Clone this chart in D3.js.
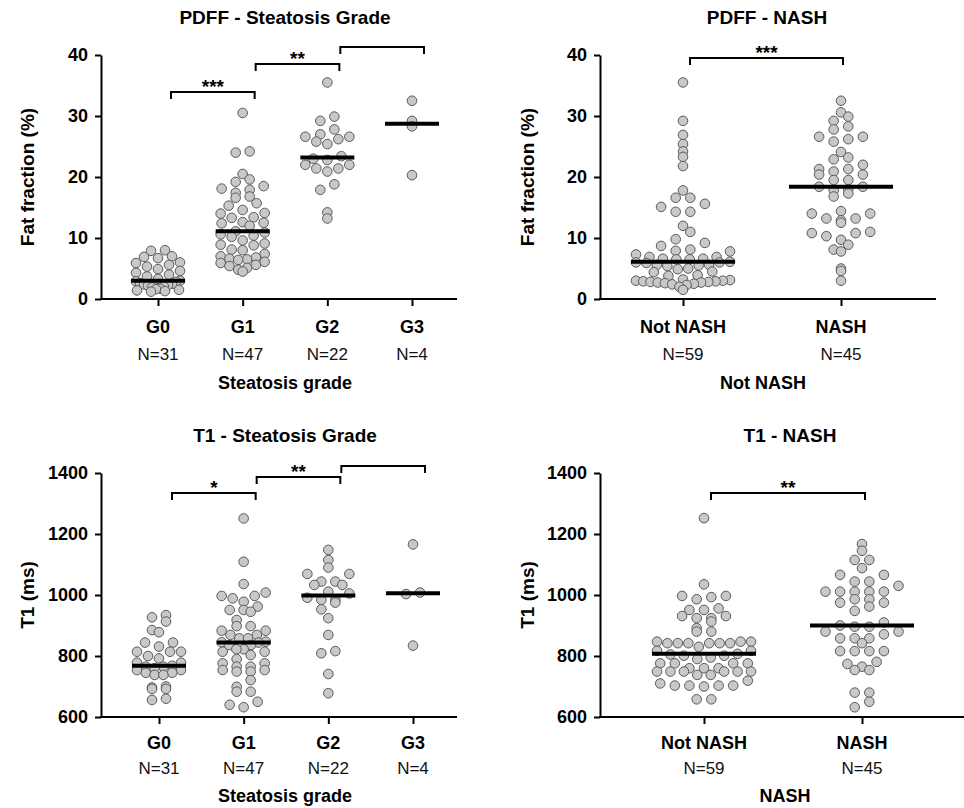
<!DOCTYPE html>
<html>
<head>
<meta charset="utf-8">
<script src="https://cdn.jsdelivr.net/npm/d3@7"></script>
<style>
  body { margin: 0; background: #fff; }
  svg { display: block; font-family: "Liberation Sans", Arial, sans-serif; }
</style>
</head>
<body>
<svg id="chart" width="964" height="808"></svg>
<script>
// categories + labels
var gradeCats = ["G0", "G1", "G2", "G3"];
var gradeN = ["N=31", "N=47", "N=22", "N=4"];
var nashCats = ["Not NASH", "NASH"];
var nashN = ["N=59", "N=45"];
var pdffTicks = [0, 10, 20, 30, 40];
var t1Ticks = [600, 800, 1000, 1200, 1400];

// PDFF (%) by steatosis grade
var pdffG0 = [8.0, 7.9, 7.0, 6.9, 6.7, 6.0, 5.9, 5.6, 5.3, 4.9, 4.6, 4.3, 4.0, 3.7, 3.3, 3.0,
  2.9, 2.8, 2.6, 2.5, 2.4, 2.3, 2.2, 2.0, 1.9, 1.7, 1.6, 1.5, 1.4, 1.3, 1.2];
var pdffG1 = [30.5, 24.2, 24.0, 20.5, 19.6, 19.2, 18.5, 18.1, 17.9, 17.4, 16.8, 16.6, 15.7, 15.3,
  14.6, 14.1, 14.0, 13.4, 13.3, 12.6, 12.5, 12.4, 12.0, 11.1, 10.9, 10.6, 10.4, 10.2, 9.6, 9.1,
  8.9, 8.8, 8.1, 8.0, 7.4, 7.0, 6.8, 6.6, 6.5, 6.4, 6.1, 5.9, 5.6, 5.4, 5.1, 4.8, 4.5];
var pdffG2 = [35.5, 29.9, 29.2, 27.8, 27.0, 26.6, 26.6, 26.2, 25.8, 25.4, 23.4, 23.0, 22.8, 22.0,
  22.0, 21.4, 21.4, 20.9, 18.8, 17.9, 14.2, 13.2];
var pdffG3 = [32.5, 29.2, 28.3, 20.3];

// PDFF (%) by NASH
var pdffNot = [35.5, 29.2, 26.9, 25.4, 24.2, 23.3, 21.8, 17.8, 16.6, 16.6, 15.6, 15.1, 14.3, 14.3,
  12.0, 11.0, 9.8, 9.2, 8.7, 8.1, 7.9, 7.8, 7.3, 6.9, 6.9, 6.6, 6.6, 6.5, 6.5, 6.1,
  6.0, 6.0, 5.9, 5.6, 5.6, 5.5, 5.4, 5.0, 4.9, 4.5, 4.4, 3.9, 3.8, 3.2, 3.1, 3.0, 3.0, 2.9, 2.9,
  2.8, 2.8, 2.7, 2.7, 2.6, 2.5, 2.4, 2.3, 2.0, 1.5];
var pdffNash = [32.5, 30.6, 29.9, 29.2, 28.3, 27.8, 26.6, 26.6, 26.2, 25.8, 24.1, 23.2, 22.9, 22.0,
  21.3, 21.3, 20.9, 20.4, 20.4, 19.5, 19.5, 18.4, 18.4, 18.0, 17.8, 17.3, 16.8, 14.4, 14.0, 14.0,
  13.2, 13.2, 12.9, 12.5, 11.0, 10.8, 10.8, 10.3, 9.7, 8.9, 8.1, 7.8, 5.0, 4.6, 3.0];

// T1 (ms) by steatosis grade
var t1G0 = [934, 927, 913, 885, 878, 844, 844, 831, 814, 814, 814, 800, 792, 778, 778, 768,
  765, 765, 760, 754, 754, 745, 745, 738, 738, 700, 697, 692, 692, 660, 656];
var t1G1 = [1251, 1109, 1036, 1008, 997, 997, 989, 978, 962, 951, 951, 945, 918, 898, 898, 883,
  883, 869, 869, 858, 858, 847, 845, 844, 836, 836, 822, 822, 814, 814, 803, 790, 776, 776,
  765, 765, 754, 754, 749, 749, 721, 699, 683, 683, 650, 640, 632];
var t1G2 = [1148, 1115, 1090, 1069, 1069, 1044, 1044, 1033, 1033, 1011, 1005, 991, 984, 984,
  975, 953, 924, 869, 816, 809, 741, 678];
var t1G3 = [1166, 1008, 1003, 834];

// T1 (ms) by NASH
var t1Not = [1252, 1035, 997, 997, 993, 986, 956, 951, 951, 931, 931, 924, 924, 913, 891, 880,
  880, 847, 847, 847, 842, 842, 842, 842, 842, 842, 830, 817, 817, 807, 805, 801, 801, 795, 790,
  776, 776, 776, 776, 760, 760, 760, 749, 749, 749, 749, 749, 749, 738, 738, 719, 710, 703, 703,
  703, 703, 700, 658, 658];
var t1Nash = [1167, 1145, 1115, 1115, 1088, 1066, 1066, 1044, 1044, 1030, 1011, 1011, 1011, 1011,
  1011, 986, 986, 975, 975, 962, 948, 910, 900, 896, 896, 880, 880, 871, 858, 858, 858, 842,
  816, 816, 816, 816, 781, 774, 765, 754, 754, 680, 680, 650, 632];

// significance brackets
var gradeComps = [["G0", "G1"], ["G1", "G2"], ["G2", "G3"]];
var nashComps = [["Not NASH", "NASH"]];
var pdffGradeStars = ["***", "**", ""];
var t1GradeStars = ["*", "**", ""];
var pdffNashStars = ["***"];
var t1NashStars = ["**"];

var svg = d3.select("#chart");

var panels = [
  { title: "PDFF - Steatosis Grade", titleX: 285, titleY: 24, yTitle: "Fat fraction (%)", yTitleX: 27,
    axisX: 101, axisEnd: 457, yRange: [299, 55], domain: [0, 40], ticks: pdffTicks,
    cats: gradeCats, ns: gradeN, xRange: [158, 412], series: [pdffG0, pdffG1, pdffG2, pdffG3],
    xTitle: "Steatosis grade", xTitleX: 285, labY: [333, 360, 389], halfW: 27, step: 14, spread: 22,
    comps: gradeComps, stars: pdffGradeStars, brY: [92, 64, 47], brOff: [13, 12] },
  { title: "PDFF - NASH", titleX: 767, titleY: 24, yTitle: "Fat fraction (%)", yTitleX: 527,
    axisX: 600, axisEnd: 936, yRange: [299, 55], domain: [0, 40], ticks: pdffTicks,
    cats: nashCats, ns: nashN, xRange: [683, 841], series: [pdffNot, pdffNash],
    xTitle: "Not NASH", xTitleX: 763, labY: [333, 360, 389], halfW: 52, step: 14.6, spread: 47,
    comps: nashComps, stars: pdffNashStars, brY: [58], brOff: [7, 2] },
  { title: "T1 - Steatosis Grade", titleX: 285, titleY: 442, yTitle: "T1 (ms)", yTitleX: 27,
    axisX: 101, axisEnd: 457, yRange: [717, 473], domain: [600, 1400], ticks: t1Ticks,
    cats: gradeCats, ns: gradeN, xRange: [159, 413], series: [t1G0, t1G1, t1G2, t1G3],
    xTitle: "Steatosis grade", xTitleX: 285, labY: [749, 774, 802], halfW: 27, step: 14, spread: 22,
    comps: gradeComps, stars: t1GradeStars, brY: [493, 477, 466], brOff: [13, 12] },
  { title: "T1 - NASH", titleX: 790, titleY: 442, yTitle: "T1 (ms)", yTitleX: 527,
    axisX: 600, axisEnd: 964, yRange: [717, 473], domain: [600, 1400], ticks: t1Ticks,
    cats: nashCats, ns: nashN, xRange: [704, 862], series: [t1Not, t1Nash],
    xTitle: "NASH", xTitleX: 785, labY: [749, 774, 802], halfW: 52, step: 14.6, spread: 47,
    comps: nashComps, stars: t1NashStars, brY: [493], brOff: [7, 3] }
];

// Prism-like scatter: points fall into horizontal rows (one dot high),
// each row is spread out round the centre, lowest values in the middle
function rowLayout(vals, y, h, step, W, yBase) {
  var out = new Array(vals.length);
  var rows = d3.group(d3.range(vals.length), function(i) {
    return Math.floor((yBase - y(vals[i])) / h);
  });
  rows.forEach(function(ids) {
    ids.sort(function(a, b) { return vals[a] - vals[b]; });
    var n = ids.length;
    var s = n > 1 ? Math.min(step, 2 * W / (n - 1)) : 0;
    var offs = d3.range(n).map(function(j) { return (j - (n - 1) / 2) * s; });
    offs.sort(function(a, b) { return Math.abs(a) - Math.abs(b) || a - b; });
    ids.forEach(function(id, k) { out[id] = offs[k]; });
  });
  return out;
}

panels.forEach(function(p) {
  var g = svg.append("g");
  var y = d3.scaleLinear().domain(p.domain).range(p.yRange);
  var x = d3.scalePoint().domain(p.cats).range(p.xRange);

  // y axis
  var ya = g.append("g")
    .attr("transform", "translate(" + p.axisX + ",0)")
    .call(d3.axisLeft(y).tickValues(p.ticks).tickFormat(d3.format("d"))
      .tickSize(6).tickSizeOuter(0).tickPadding(7));
  ya.select(".domain").attr("stroke-width", 2);
  ya.selectAll(".tick line").attr("stroke-width", 2);
  ya.selectAll(".tick text").attr("font-size", 18).attr("font-weight", "bold")
    .attr("fill", "#000").attr("font-family", "Liberation Sans, Arial, sans-serif");

  // x axis
  var xa = g.append("g")
    .attr("transform", "translate(0," + p.yRange[0] + ")")
    .call(d3.axisBottom(x).tickSize(7).tickFormat(""));
  xa.select(".domain").remove();
  xa.selectAll(".tick line").attr("stroke-width", 2);
  g.append("line")
    .attr("x1", p.axisX - 1).attr("x2", p.axisEnd)
    .attr("y1", p.yRange[0]).attr("y2", p.yRange[0])
    .attr("stroke", "#000").attr("stroke-width", 2);

  // labels under the axis
  g.selectAll(".cat").data(p.cats).enter().append("text")
    .attr("x", function(d) { return x(d); }).attr("y", p.labY[0])
    .attr("text-anchor", "middle").attr("font-size", 18).attr("font-weight", "bold")
    .text(function(d) { return d; });
  g.selectAll(".nlab").data(p.ns).enter().append("text")
    .attr("x", function(d, i) { return x(p.cats[i]); }).attr("y", p.labY[1])
    .attr("text-anchor", "middle").attr("font-size", 17).attr("fill", "#111")
    .text(function(d) { return d; });
  g.append("text").attr("x", p.xTitleX).attr("y", p.labY[2])
    .attr("text-anchor", "middle").attr("font-size", 18).attr("font-weight", "bold")
    .text(p.xTitle);

  // titles
  g.append("text").attr("x", p.titleX).attr("y", p.titleY)
    .attr("text-anchor", "middle").attr("font-size", 19).attr("font-weight", "bold")
    .text(p.title);
  var yMid = (p.yRange[0] + p.yRange[1]) / 2;
  g.append("text")
    .attr("transform", "translate(" + (p.yTitleX + 7) + "," + yMid + ") rotate(-90)")
    .attr("text-anchor", "middle").attr("font-size", 19).attr("font-weight", "bold")
    .text(p.yTitle);

  // points
  p.series.forEach(function(vals, i) {
    var cx = x(p.cats[i]);
    var offs = rowLayout(vals, y, 9.6, p.step, p.spread, p.yRange[0]);
    g.append("g").selectAll("circle").data(vals).enter().append("circle")
      .attr("cx", function(d, j) { return cx + offs[j]; })
      .attr("cy", function(d) { return y(d); })
      .attr("r", 4.8)
      .attr("fill", "#c8c8c8").attr("stroke", "#5a5a5a").attr("stroke-width", 1);
    var med = d3.median(vals);
    g.append("line")
      .attr("x1", cx - p.halfW).attr("x2", cx + p.halfW)
      .attr("y1", y(med)).attr("y2", y(med))
      .attr("stroke", "#000").attr("stroke-width", 4);
  });

  // brackets
  p.comps.forEach(function(c, i) {
    var x1 = x(c[0]) + p.brOff[0], x2 = x(c[1]) + p.brOff[1], by = p.brY[i];
    g.append("path")
      .attr("d", "M" + x1 + "," + (by + 7) + "V" + by + "H" + x2 + "V" + (by + 7))
      .attr("fill", "none").attr("stroke", "#000").attr("stroke-width", 2);
    if (p.stars[i]) {
      g.append("text").attr("x", (x1 + x2) / 2).attr("y", by + 1)
        .attr("text-anchor", "middle").attr("font-size", 19).attr("font-weight", "bold")
        .text(p.stars[i]);
    }
  });
});
</script>
</body>
</html>
